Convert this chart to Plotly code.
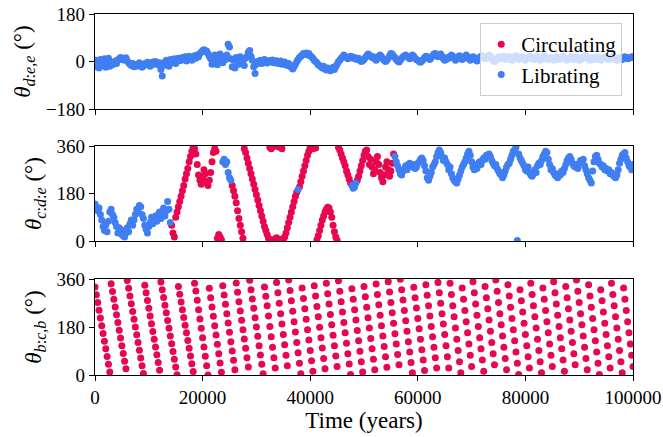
import numpy as np
import plotly.graph_objects as go

DT = 250  # sampling interval of the output, years

# theta_{d:e,e} (top panel), degrees
theta_de = [
    -20, 5, -10, -25, 8, -15, -5, 10, -22, -8, 12, -18, -3, -12,
    -5, 2, -8, 6,
    10, 15, 8, 12, 5, 14, 3,
    -5, -10, -15, -8, -20, -12, -18, -10, -5, -14, -22, -16, -8, -12, -3, -10, -18, -6, -2, -10, 0, -8,
    -12, -5, -30, -55, -15, -2, 5, -10, -18, 8, -5, 2, 10, -8, 0, 12, 4,
    5, 15, 8, 18, 2, 12, 20, 10, 5, 15, 22, 12, 25, 18, 30, 35,
    42, 45, 38, 40, 30, 20, 10,
    -10, 15, 25, 5, -12, 20, 28, 10, -5, 18, 8, 25,
    65, 55,
    10, -20, 5, -25, 15, 0, -10, 18, -5, 8, -15, 12, 20, 35, 42,
    20, 5, -20, -45, -10,
    0, -5, 5, -8, 2, 8, -3, -6, 0, 4, -2, 6, -5, 0, 3, -8, -4, 2, -10, -6, -2, -12, -15, -8,
    -18, -22, -28, -20,
    -10, 0, 8, 15, 20, 25,
    30, 28, 32, 25, 30, 22, 18, 12, 5,
    0, -5, -12, -15, -20, -25, -18, -28, -32, -25, -30, -35, -28, -22, -30,
    -20, -10, 0, 5, 12, 18, 25, 20, 15,
    10, 15, 20, 18, 12, 15, 10, 8, 12, 5, 0, 3,
    8, 15, 22, 28, 25, 20, 15, 18, 10, 5, 12, 20,
    25, 18, 10, 5, 0, 5, 12, 22, 30, 28, 20, 15,
    8, 2, -2, 5, 12, 18, 22, 25, 20, 15, 10, 18,
    25, 20, 12, 8, 5, 0, -3, 2, 8, 15, 20, 18,
    12, 8, 15, 22, 28, 30, 25, 18, 22, 28, 20, 10,
    5, 8, 15, 12, 18, 25, 20, 12, 5,
    10, 18, 22, 15, 8, 12, 20, 25, 18, 10, 5, 12,
    18, 15, 8, 2, 8, 15, 20, 22, 15, 10, 12, 18,
    25, 20, 12, 5, 0, 5, 12, 18, 15, 10, 15, 20,
    12, 8, 15, 18, 10, 5, 12, 20, 22, 15, 8, 12,
    18, 15, 10, 5, 10, 15, 20, 15, 10, 12, 8, 15,
    20, 12, 5, 10, 18, 22, 15, 10, 8, 12, 15, 10,
    5, 12, 18, 15, 8, 10, 15, 20, 12, 8, 5, 10,
    15, 20, 15, 8, 12, 18, 10, 5, 8, 15, 12, 18,
    22, 15, 10, 5, 10, 15, 8, 12, 18, 15, 8, 5,
    10, 15, 12, 18, 12, 8, 10, 15, 20, 12, 8, 5,
    12, 15, 10, 8, 12, 18, 15, 10, 12, 15, 18, 15,
]

# theta_{c:d:e} (middle panel), degrees
theta_cde = [
    140, 130, 115, 125, 100, 80, 55, 40, 60, 35, 75, 110, 120, 100, 90, 70, 55, 30, 50, 45,
    25, 20, 15, 30, 50, 35, 65, 80,
    60, 80, 100, 120, 110, 135, 130, 100, 85, 60, 45, 30, 55, 70, 90, 65, 80, 95, 75, 100,
    110, 85, 100, 125, 95, 115, 150, 120, 70,
    60, 30, 15, 90, 110, 130, 150, 170, 190, 210, 235, 255, 275, 300, 320, 340, 355, 350,
    330, 290, 250, 230, 215, 240, 270, 255, 225, 210, 230, 260, 300, 335, 350, 340, 10, 25, 15, 5,
    300, 310, 290, 300, 260, 240, 230,
    210, 190, 170, 145, 115, 85, 60, 35, 10, 350, 335, 315, 295, 275, 255, 235, 215, 195, 175, 155,
    135, 115, 95, 75, 55, 40, 25, 10, 355, 350, 5, 358, 8, 12, 2, 355, 6, 350, 4, 15,
    30, 50, 70, 90, 110, 130, 150, 170, 185,
    195,
    205, 225, 245, 265, 285, 305, 325, 340, 355, 358, 350, 356, 352, 5, 20, 40, 60, 80, 95, 110,
    120, 128, 125, 110, 90, 60, 35, 15, 3, 355, 345, 330, 315, 300, 285, 265, 250, 235, 220,
    210, 200, 205, 220,
    230, 245, 265, 285, 305, 325, 340, 345, 320, 290, 310, 280, 255, 270, 300, 320, 290, 260, 240, 225,
    250, 280, 300, 270, 245, 265, 295, 330,
    320, 300, 285, 270, 255, 250, 265, 275, 285, 270, 290, 295, 285, 280, 290, 275, 280, 295, 300, 310,
    315, 305, 285, 265, 240, 230, 245, 260, 280, 290, 300, 320, 335, 345, 335, 320, 305, 315, 300, 290,
    270, 280, 255, 240, 230, 225, 220, 235, 250, 265, 280, 290, 300, 315, 330, 340, 325, 300, 280, 270,
    285, 275, 295, 300, 290, 305, 315, 310, 325, 320, 330, 320, 305, 295, 285, 290, 275, 265, 255, 250,
    240, 250, 265, 280, 290, 295, 310, 325, 340, 345, 355, 2, 330, 315, 305, 295, 285, 270, 265, 280,
    260, 250, 245, 255, 270, 260, 285, 295, 290, 305, 320, 330, 340, 335, 310, 290, 270, 275, 260, 250,
    245, 240, 255, 250, 265, 260, 275, 290, 305, 315, 320, 310, 295, 285, 280, 290, 275, 295, 305, 300,
    310, 285, 270, 255, 240, 230, 220, 265, 300, 320, 325, 310, 295, 290, 280, 285, 270, 275, 265, 270,
    255, 260, 250, 245, 240, 250, 270, 295, 310, 325, 330, 335, 315, 300, 285, 280, 270, 290,
]

# time spans (years) where theta_{c:d:e} is classified as librating
librating_spans = [(0, 14000), (23750, 25250), (37750, 37750), (47750, 48500), (55750, 100000)]

# theta_{b:c,b} (bottom panel), degrees
theta_bcb = [
    330, 301, 272, 243, 214, 185, 156, 127, 98, 69, 40, 11, 342, 313, 284, 255, 226, 197, 168, 139,
    110, 81, 52, 23, 354, 325, 296, 267, 238, 209, 180, 151, 122, 93, 64, 35, 6, 337, 308, 279,
    250, 221, 192, 163, 134, 105, 76, 47, 18, 349, 320, 291, 262, 233, 204, 175, 146, 117, 88, 59,
    30, 1, 332, 303, 274, 245, 216, 187, 158, 129, 100, 71, 42, 13, 344, 315,
    280, 245, 210, 175, 140, 105, 70, 35, 0, 325, 290, 255, 220, 185, 150, 115, 80, 45, 10, 335,
    300, 265, 230, 195, 160, 125, 90, 55, 20, 345, 310, 275, 240, 205, 170, 135, 100, 65, 30, 355,
    320, 285, 250, 215, 180, 145, 110, 75, 40, 5, 330, 295, 260,
    221, 182, 143, 104, 65, 26, 347, 308, 269, 230, 191, 152, 113, 74, 35, 356, 317, 278, 239, 200,
    161, 122, 83, 44, 5, 326, 287, 248, 209, 170, 131, 92, 53, 14, 335, 296, 257, 218, 179, 140,
    101, 62, 23, 344, 305, 266, 227, 188, 149, 110, 71, 32, 353, 314, 275, 236, 197, 158, 119, 80,
    41, 2, 323, 284, 245, 206, 167, 128, 89, 50, 11, 332, 293, 254, 215, 176, 137, 98, 59, 20,
    341, 302, 263, 224, 185, 146, 107, 68, 29, 350, 311, 272, 233, 194, 155, 116, 77, 38, 359, 320,
    281, 242, 203, 164, 125, 86, 47, 8, 329, 290, 251, 212, 173, 134, 95, 56, 17, 338, 299, 260,
    221, 182, 143, 104, 65, 26, 347, 308, 269, 230, 191, 152,
    110, 68, 26, 344, 302, 260, 218, 176, 134, 92, 50, 8, 326, 284, 242, 200, 158, 116, 74, 32,
    350, 308, 266, 224, 182, 140, 98, 56, 14, 332, 290, 248, 206, 164, 122, 80, 38, 356, 314, 272,
    230, 188, 146, 104, 62, 20, 338, 296, 254, 212, 170, 128, 86, 44, 2, 320, 278, 236, 194, 152,
    110, 68, 26, 344, 302, 260, 218, 176, 134, 92, 50, 8, 326, 284, 242, 200, 158, 116, 74, 32,
    350, 308, 266, 224, 182, 140, 98, 56, 14, 332, 290, 248, 206, 164, 122, 80, 38, 356, 314, 272,
    230, 188, 146, 104, 62, 20, 338, 296, 254, 212, 170, 128, 86, 44, 2, 320, 278, 236, 194, 152,
    110, 68, 26, 344, 302, 260, 218, 176, 134, 92, 50, 8, 326, 284, 242, 200, 158, 116, 74, 32,
]

x_ticks = [0, 20000, 40000, 60000, 80000, 100000]
x_ticktext = ["0", "20000", "40000", "60000", "80000", "100000"]
x_range = [0, 100000]

RED = "#e8074f"
BLUE = "#3f7ef3"
FONT = "Liberation Serif, DejaVu Serif, serif"
MS = 7

t_top = np.arange(len(theta_de)) * DT
t_mid = np.arange(len(theta_cde)) * DT
t_bot = np.arange(len(theta_bcb)) * DT

mid = np.array(theta_cde, dtype=float)
is_lib = np.zeros(len(mid), dtype=bool)
for a, b in librating_spans:
    is_lib |= (t_mid >= a) & (t_mid <= b)

fig = go.Figure()
fig.add_trace(go.Scatter(x=t_top, y=theta_de, mode="markers", xaxis="x", yaxis="y",
                         marker=dict(color=BLUE, size=MS), showlegend=False))
fig.add_trace(go.Scatter(x=t_mid[~is_lib], y=mid[~is_lib], mode="markers", xaxis="x2", yaxis="y2",
                         marker=dict(color=RED, size=MS), name="Circulating", legendrank=1))
fig.add_trace(go.Scatter(x=t_mid[is_lib], y=mid[is_lib], mode="markers", xaxis="x2", yaxis="y2",
                         marker=dict(color=BLUE, size=MS), name="Librating", legendrank=2))
fig.add_trace(go.Scatter(x=t_bot, y=theta_bcb, mode="markers", xaxis="x3", yaxis="y3",
                         marker=dict(color=RED, size=MS), showlegend=False))

common = dict(showline=True, mirror=True, linecolor="black", linewidth=1.2, ticks="outside",
              ticklen=5, tickwidth=1.1, tickcolor="black", showgrid=False, zeroline=False,
              automargin=False,
              tickfont=dict(family=FONT, size=19, color="black"))
title_font = dict(family=FONT, size=23, color="black")

H = 437
top, bottom = 14, 62
ph = H - top - bottom
def dom(y0, y1):
    return [(H - bottom - y1) / ph, (H - bottom - y0) / ph]

fig.update_layout(
    width=663, height=437,
    margin=dict(l=95, r=30, t=top, b=bottom, autoexpand=False),
    paper_bgcolor="white", plot_bgcolor="white",
    font=dict(family=FONT, color="black"),
    xaxis=dict(common, domain=[0, 1], anchor="y", range=x_range, tickvals=x_ticks, showticklabels=False),
    xaxis2=dict(common, domain=[0, 1], anchor="y2", range=x_range, tickvals=x_ticks, showticklabels=False),
    xaxis3=dict(common, domain=[0, 1], anchor="y3", range=x_range, tickvals=x_ticks, ticktext=x_ticktext,
                title=dict(text="Time (years)", font=title_font, standoff=0)),
    yaxis=dict(common, domain=dom(14, 109), anchor="x", range=[-180, 180], tickvals=[-180, 0, 180],
               title=dict(text="<i>θ</i><sub><i>d</i>:<i>e</i>,<i>e</i></sub> (°)", font=title_font, standoff=8)),
    yaxis2=dict(common, domain=dom(146, 241), anchor="x2", range=[0, 360], tickvals=[0, 180, 360],
                title=dict(text="<i>θ</i><sub><i>c</i>:<i>d</i>:<i>e</i></sub> (°)", font=title_font, standoff=8)),
    yaxis3=dict(common, domain=dom(279, 375), anchor="x3", range=[0, 360], tickvals=[0, 180, 360],
                title=dict(text="<i>θ</i><sub><i>b</i>:<i>c</i>,<i>b</i></sub> (°)", font=title_font, standoff=8)),
    legend=dict(x=0.98, y=0.975, xanchor="right", yanchor="top",
                bgcolor="rgba(255,255,255,0.75)", bordercolor="#cccccc", borderwidth=1,
                font=dict(family=FONT, size=21, color="black")),
    hovermode=False,
)

fig.write_html("out.html", config={"displayModeBar": False},
               post_script="document.body.style.margin='0';")
